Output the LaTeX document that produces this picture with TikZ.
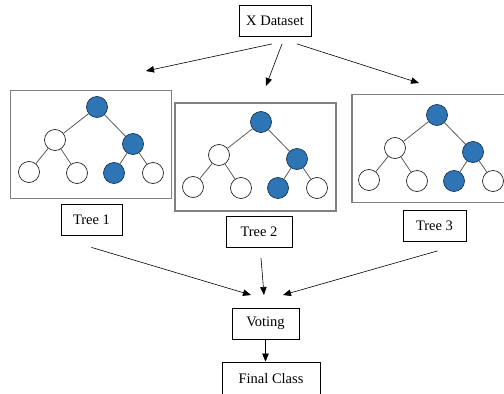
\documentclass[tikz,border=0pt]{standalone}
\usepackage{xcolor}
\usepackage{fontspec}
\setmainfont{Liberation Serif}
\usepackage{tikz}
\usetikzlibrary{arrows.meta, positioning}

\definecolor{nodeblue}{RGB}{46,117,182}
\definecolor{framegray}{RGB}{128,128,128}
\definecolor{edgegray}{RGB}{89,89,89}

\begin{document}
\begin{tikzpicture}[
      x=1pt, y=-1pt,
      font=\fontsize{14.5}{17}\selectfont,
      lbl/.style={rectangle, draw=black, line width=0.8pt, fill=white,
        minimum height=31pt, inner sep=0pt},
      frm/.style={rectangle, draw=framegray, line width=1.6pt,
        minimum width=161pt, minimum height=108pt, inner sep=0pt},
      leaf/.style={circle, draw=black!85, line width=0.7pt, fill=white,
        minimum size=21pt, inner sep=0pt},
      hit/.style={leaf, fill=nodeblue, draw=nodeblue!45!black},
      branch/.style={draw=edgegray, line width=0.8pt},
      link/.style={-{Triangle[length=8pt,width=6.5pt]}, line width=0.6pt}
    ]
      \useasboundingbox (0,0) rectangle (504,394);

      \node[lbl, minimum width=72pt] (xd) at (275,21) {X Dataset};

      % tree frames
      \node[frm] (fr1) at (91,144.5) {};
      \node[frm] (fr2) at (255.5,157) {};
      \node[frm] (fr3) at (432.5,148.5) {};

      % the three decision trees
      \foreach \t/\rx/\ry in {1/97/107, 2/261/122, 3/437/115} {
        \node[hit]  (top\t) at (\rx,\ry) {};
        \node[leaf] (lf\t)  at (\rx-42,\ry+33) {};
        \node[hit]  (rt\t)  at (\rx+36,\ry+37) {};
        \node[leaf] (ll\t)  at (\rx-68,\ry+65) {};
        \node[leaf] (lr\t)  at (\rx-20,\ry+66) {};
        \node[hit]  (rl\t)  at (\rx+17,\ry+66) {};
        \node[leaf] (rr\t)  at (\rx+56,\ry+66) {};
        \draw[branch] (top\t) -- (lf\t) (top\t) -- (rt\t)
          (lf\t) -- (ll\t) (lf\t) -- (lr\t)
          (rt\t) -- (rl\t) (rt\t) -- (rr\t);
      }

      \node[lbl, minimum width=61pt] (t1) at (91.5,219.5) {Tree 1};
      \node[lbl, minimum width=66pt] (t2) at (259,232) {Tree 2};
      \node[lbl, minimum width=63pt] (t3) at (434.5,226) {Tree 3};
      \node[lbl, minimum width=67pt] (vote) at (265.5,323.5) {Voting};
      \node[lbl, minimum width=98pt, minimum height=34pt] (final) at (271,379) {Final Class};

      % arrow ends
      \coordinate (in1) at (146,71);
      \coordinate (in2) at (266,86);
      \coordinate (in3) at (419,83);
      \coordinate (v1) at (251,295);
      \coordinate (v2) at (264,295);
      \coordinate (v3) at (283,295);

      \draw[link] ([xshift=-3pt,yshift=-7pt]xd.south) -- (in1);
      \draw[link] ([xshift=7pt,yshift=-7pt]xd.south) -- (in2);
      \draw[link] ([xshift=22pt,yshift=-7pt]xd.south) -- (in3);

      \draw[link] ([yshift=-12pt]t1.south) -- (v1);
      \draw[link] ([xshift=2pt,yshift=-10pt]t2.south) -- (v2);
      \draw[link] ([xshift=3pt,yshift=-9pt]t3.south) -- (v3);

      \draw[link] (vote.south) -- (vote.south |- final.north);
    \end{tikzpicture}
\end{document}
